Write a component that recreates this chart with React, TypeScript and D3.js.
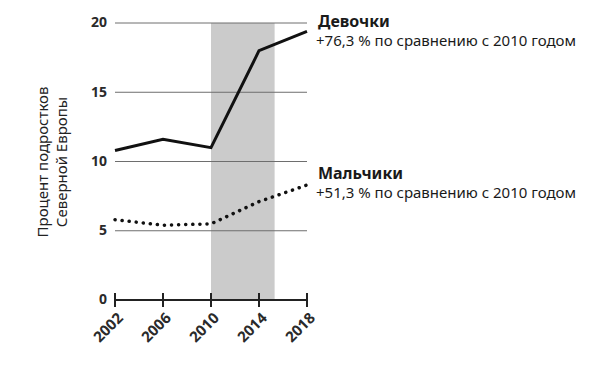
import { useRef, useEffect } from "react";
import * as d3 from "d3";

const years = [2002, 2006, 2010, 2014, 2018];
const girls = [10.8, 11.6, 11.0, 18.0, 19.4];
const boys = [5.8, 5.4, 5.5, 7.1, 8.3];
const yTicks = [0, 5, 10, 15, 20];
const shade = [2010, 2015.3];
const yTitle = ["Процент подростков", "Северной Европы"];
const girlsLabel = ["Девочки", "+76,3 % по сравнению с 2010 годом"];
const boysLabel = ["Мальчики", "+51,3 % по сравнению с 2010 годом"];

export default function App() {
  const ref = useRef<SVGSVGElement>(null);

  useEffect(() => {
    const svg = d3.select(ref.current);
    svg.selectAll("*").remove();
    const font = "'Noto Sans', sans-serif";

    const x = d3.scaleLinear().domain([2002, 2018]).range([115, 307]);
    const y = d3.scaleLinear().domain([0, 20]).range([300, 23]);

    // shaded period
    svg
      .append("rect")
      .attr("x", x(shade[0]))
      .attr("y", y(20))
      .attr("width", x(shade[1]) - x(shade[0]))
      .attr("height", y(0) - y(20))
      .attr("fill", "#cbcbcb");

    // grid
    svg
      .append("g")
      .selectAll("line")
      .data(yTicks.filter((d) => d > 0))
      .join("line")
      .attr("x1", x(2002))
      .attr("x2", x(2018))
      .attr("y1", (d) => y(d))
      .attr("y2", (d) => y(d))
      .attr("stroke", "#6e6e6e")
      .attr("stroke-width", 1);

    // y tick labels
    svg
      .append("g")
      .selectAll("text")
      .data(yTicks)
      .join("text")
      .attr("x", 107)
      .attr("y", (d) => y(d))
      .attr("dy", "0.32em")
      .attr("text-anchor", "end")
      .attr("font-family", font)
      .attr("font-weight", "bold")
      .attr("font-size", 14)
      .attr("fill", "#2a2a2a")
      .text((d) => d);

    // x axis
    const ax = svg.append("g").attr("stroke", "#222").attr("stroke-width", 2);
    ax.append("line")
      .attr("x1", x(2002))
      .attr("x2", x(2018))
      .attr("y1", y(0))
      .attr("y2", y(0));
    ax.selectAll("line.tick")
      .data(years)
      .join("line")
      .attr("class", "tick")
      .attr("x1", (d) => x(d))
      .attr("x2", (d) => x(d))
      .attr("y1", y(0) - 7)
      .attr("y2", y(0) + 7);

    svg
      .append("g")
      .selectAll("text")
      .data(years)
      .join("text")
      .attr(
        "transform",
        (d) => `translate(${x(d) + 9},${y(0) + 19}) rotate(-45)`
      )
      .attr("text-anchor", "end")
      .attr("font-family", font)
      .attr("font-weight", "bold")
      .attr("font-size", 15)
      .attr("fill", "#2a2a2a")
      .text((d) => d);

    // lines
    const line = d3
      .line<number>()
      .x((_, i) => x(years[i]))
      .y((d) => y(d));

    svg
      .append("path")
      .attr("d", line(girls))
      .attr("fill", "none")
      .attr("stroke", "#111")
      .attr("stroke-width", 3);

    svg
      .append("path")
      .attr("d", line(boys))
      .attr("fill", "none")
      .attr("stroke", "#111")
      .attr("stroke-width", 3.5)
      .attr("stroke-linecap", "round")
      .attr("stroke-dasharray", "0.1 7");

    // y title
    const yt = svg
      .append("text")
      .attr("transform", "translate(48,162) rotate(-90)")
      .attr("text-anchor", "middle")
      .attr("font-family", font)
      .attr("font-size", 15)
      .attr("fill", "#222");
    yt.selectAll("tspan")
      .data(yTitle)
      .join("tspan")
      .attr("x", 0)
      .attr("dy", (_, i) => (i === 0 ? 0 : 19))
      .text((d) => d);

    // labels
    const labels = [
      { lines: girlsLabel, y: 27 },
      { lines: boysLabel, y: 179 },
    ];
    labels.forEach((l) => {
      svg
        .append("text")
        .attr("x", 318)
        .attr("y", l.y)
        .attr("font-family", font)
        .attr("font-weight", "bold")
        .attr("font-size", 16)
        .attr("fill", "#1a1a1a")
        .text(l.lines[0]);
      svg
        .append("text")
        .attr("x", 316)
        .attr("y", l.y + 19)
        .attr("font-family", font)
        .attr("font-size", 15)
        .attr("fill", "#1a1a1a")
        .text(l.lines[1]);
    });
  }, []);

  return (
    <svg
      ref={ref}
      width={600}
      height={366}
      style={{ position: "absolute", left: 0, top: 0, background: "#fff" }}
    />
  );
}
